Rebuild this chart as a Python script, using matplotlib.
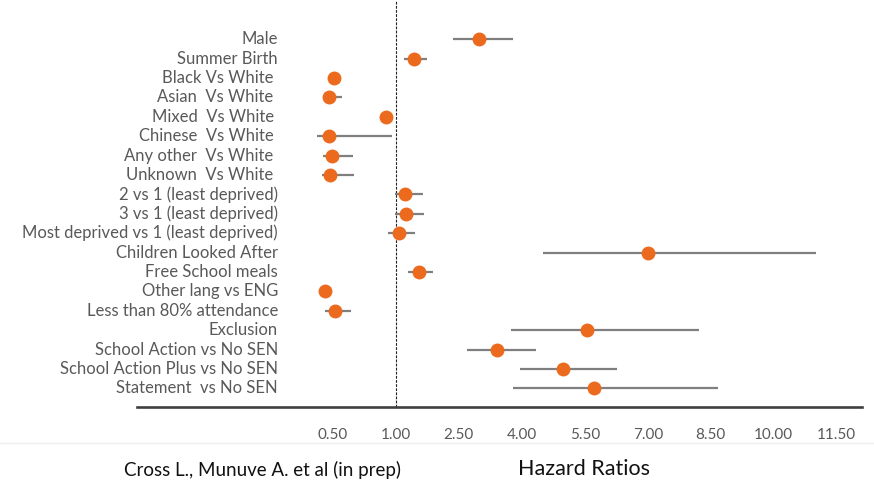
import numpy as np
import matplotlib
matplotlib.use("Agg")
import matplotlib.pyplot as plt
from matplotlib.lines import Line2D

# Hazard ratio forest plot data
labels = [
    "Male", "Summer Birth", "Black Vs White ", "Asian  Vs White ",
    "Mixed  Vs White ", "Chinese  Vs White ", "Any other  Vs White ",
    "Unknown  Vs White ", "2 vs 1 (least deprived)", "3 vs 1 (least deprived)",
    "Most deprived vs 1 (least deprived)", "Children Looked After",
    "Free School meals", "Other lang vs ENG", "Less than 80% attendance",
    "Exclusion", "School Action vs No SEN", "School Action Plus vs No SEN",
    "Statement  vs No SEN",
]
hr = [2.98, 1.43, 0.51, 0.47, 0.92, 0.47, 0.49, 0.48, 1.21, 1.24,
      1.07, 7.00, 1.55, 0.44, 0.52, 5.55, 3.40, 4.98, 5.71]
ci_low = [2.36, 1.19, np.nan, 0.42, 0.87, 0.37, 0.42, 0.41, 0.99, 0.99,
          0.94, 4.50, 1.29, np.nan, 0.44, 3.74, 2.69, 3.95, 3.79]
ci_high = [3.79, 1.74, np.nan, 0.57, 0.98, 0.97, 0.66, 0.67, 1.64, 1.67,
           1.45, 11.00, 1.88, np.nan, 0.64, 8.21, 4.33, 6.26, 8.67]
tick_vals = [0.5, 1.0, 2.5, 4.0, 5.5, 7.0, 8.5, 10.0, 11.5]


# the original axis is spaced by tick, not linear: 0.5 per step below 1, 1.5 above
def fwd(v):
    v = np.asarray(v, dtype=float)
    return np.where(v <= 1.0, 2.0 * v - 1.0, 1.0 + (v - 1.0) / 1.5)


def inv(i):
    i = np.asarray(i, dtype=float)
    return np.where(i <= 1.0, (i + 1.0) / 2.0, 1.0 + 1.5 * (i - 1.0))


W, H = 874, 486
fig = plt.figure(figsize=(W / 100, H / 100), dpi=100)
ax = fig.add_axes([137 / W, (H - 407) / H, (862 - 137) / W, 407 / H])
ax.set_xscale("function", functions=(fwd, inv))
ax.set_xlim(inv(-3.11), inv(8.40))
ax.set_ylim((407 - 39.3) / 19.39, -39.3 / 19.39)

orange = "#EC6A1E"
grey_line = "#7F7F7F"
y = np.arange(len(labels))

ax.hlines(y, ci_low, ci_high, color=grey_line, lw=1.6, zorder=2)
ax.plot(hr, y, "o", color=orange, ms=9, mec=orange, zorder=3)
ax.axvline(1.0, color="#222222", lw=0.8, ls=(0, (2.5, 1.2)), zorder=1)

label_x = inv((278 - 333) / 63.0)
for yi, lab in zip(y, labels):
    ax.text(label_x, yi, lab, ha="right", va="center", fontsize=12,
            color="#595959", family=["Lato", "DejaVu Sans"])

for s in ["top", "right", "left"]:
    ax.spines[s].set_visible(False)
ax.spines["bottom"].set_color("#3F3F3F")
ax.spines["bottom"].set_linewidth(1.9)
ax.set_yticks([])
ax.set_xticks(tick_vals)
ax.set_xticklabels([f"{v:.2f}" for v in tick_vals],
                   family=["Lato", "DejaVu Sans"],
                   fontsize=11, color="#595959")
ax.xaxis.set_minor_locator(matplotlib.ticker.NullLocator())
ax.tick_params(axis="x", length=0, pad=15)

# faint separator across the figure
fig.add_artist(Line2D([0, 1], [(H - 443) / H] * 2, color="#EEEEEE", lw=1.0))

fig.text(124 / W, (H - 470) / H, "Cross L., Munuve A. et al (in prep)",
         ha="left", va="center", fontsize=13.5, color="#111111",
         family=["Lato", "DejaVu Sans"])
fig.text(584 / W, (H - 469) / H, "Hazard Ratios", ha="center", va="center",
         fontsize=15.5, color="#111111",
         family=["Lato", "DejaVu Sans"])

fig.savefig("out.png", dpi=100)
